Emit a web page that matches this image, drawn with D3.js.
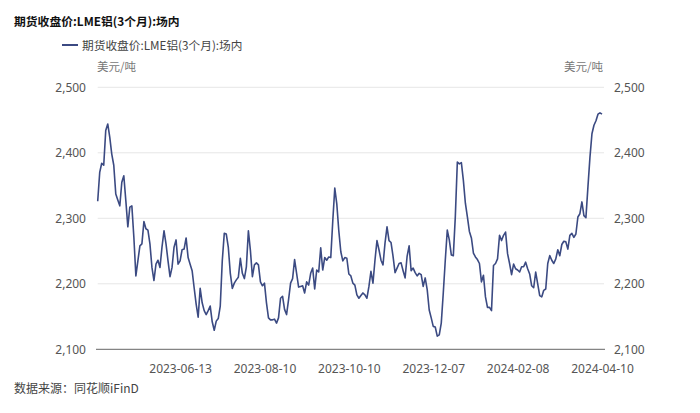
<!DOCTYPE html>
<html><head><meta charset="utf-8">
<script src="https://cdn.jsdelivr.net/npm/d3@7"></script>
<style>
html,body{margin:0;padding:0;background:#fff;}
svg{display:block;font-family:"Microsoft YaHei","Noto Sans CJK SC","Noto Sans",sans-serif;}
</style></head>
<body><svg id="c" width="700" height="413"></svg>
<script>
const title = "期货收盘价:LME铝(3个月):场内";
const seriesName = "期货收盘价:LME铝(3个月):场内";
const unit = "美元/吨";
const source = "数据来源：同花顺iFinD";
const yTicks = [2100, 2200, 2300, 2400, 2500];
const tickLabels = ["2023-06-13", "2023-08-10", "2023-10-10", "2023-12-07", "2024-02-08", "2024-04-10"];
const tickInterval = 42;
const values = [
2326,2370,2384,2381,2434,2444,2424,2398,2381,2337,
2328,2319,2355,2365,2327,2287,2317,2319,2271,2212,
2235,2258,2261,2295,2284,2282,2261,2225,2205,2230,
2236,2225,2256,2281,2261,2235,2211,2225,2256,2267,
2230,2235,2252,2253,2270,2240,2230,2220,2194,2169,
2149,2193,2171,2159,2153,2159,2166,2142,2129,2143,
2147,2166,2235,2277,
2276,2256,2216,2193,2201,2206,2210,2239,2216,2208,
2226,2281,2251,2211,2229,2232,2229,2203,2197,2201,
2171,2148,2145,2145,2146,2140,2148,2178,2181,2161,
2153,2176,2201,2208,2237,2216,2195,2196,2197,2186,
2203,2198,2216,2224,2192,2221,2218,2255,2221,2240,
2236,2241,2240,2296,2346,2322,2281,2249,2235,2240,
2239,2215,2212,
2201,2198,2183,2178,2182,2186,2183,2178,2196,2219,
2201,2236,2266,2252,2236,2229,2262,2287,2266,2263,
2242,2217,2224,2231,2232,2220,2209,2242,2258,2220,
2224,2217,2212,2216,2214,2196,2209,2191,2160,2148,
2135,2134,2120,2122,2140,2186,2236,2282,2267,2244,
2243,2303,2386,2383,2385,2358,2323,2302,2280,2270,
2247,2241,2237,2231,
2203,2213,2180,2164,2164,2159,2228,2231,2238,2274,
2266,2274,2279,2246,2231,2214,2230,2223,2221,2218,
2226,2226,2233,2223,2215,2197,2194,2218,2200,2182,
2180,2190,2192,2231,2243,2236,2231,2238,2252,2243,
2260,2265,2264,2253,2274,2277,2271,2276,2302,2307,
2325,2304,2301,2348,2393,2429,2442,2449,2459,2461,
2459
];

const svg = d3.select("#c");
const L = 97.7, R = 602, T = 87.3, B = 349.3;
const idx = d3.range(values.length);
const x = d3.scalePoint().domain(idx).range([L, R]);
const y = d3.scaleLinear().domain([2100, 2500]).range([B, T]);

// title
svg.append("text").attr("x", 14).attr("y", 26).attr("font-size", 11.8).attr("font-weight", "bold")
  .attr("fill", "#111").text(title);
// legend
svg.append("line").attr("x1", 62).attr("x2", 78).attr("y1", 45).attr("y2", 45)
  .attr("stroke", "#3b4a82").attr("stroke-width", 2);
svg.append("text").attr("x", 82).attr("y", 49.5).attr("font-size", 11.7).attr("fill", "#444").text(seriesName);
// units
svg.append("text").attr("x", 97).attr("y", 71).attr("font-size", 11.5).attr("fill", "#777").text(unit);
svg.append("text").attr("x", 603).attr("y", 71).attr("font-size", 11.5).attr("fill", "#777").attr("text-anchor", "end").text(unit);

// grid
svg.append("g").selectAll("line").data(yTicks.filter(d => d !== 2100)).join("line")
  .attr("x1", L).attr("x2", 604).attr("y1", d => y(d)).attr("y2", d => y(d))
  .attr("stroke", "#e6e6e6").attr("stroke-width", 1);

// y axes
const fmt = d3.format(",");
const yl = svg.append("g").attr("transform", `translate(${86},0)`)
  .call(d3.axisLeft(y).tickValues(yTicks).tickFormat(fmt).tickSize(0).tickPadding(0));
const yr = svg.append("g").attr("transform", `translate(${614},0)`)
  .call(d3.axisRight(y).tickValues(yTicks).tickFormat(fmt).tickSize(0).tickPadding(0));
[yl, yr].forEach(g => {
  g.select(".domain").remove();
  g.selectAll("text").attr("font-size", 12).attr("fill", "#555")
    .attr("font-family", "'Microsoft YaHei','Noto Sans',sans-serif");
});

// x axis
const n = values.length;
const tickIdx = tickLabels.map((d, i) => n - 1 - (tickLabels.length - 1 - i) * tickInterval);
const labelOf = new Map(tickIdx.map((k, i) => [k, tickLabels[i]]));
const xa = svg.append("g").attr("transform", `translate(0,${B})`)
  .call(d3.axisBottom(x).tickValues(tickIdx).tickFormat(k => labelOf.get(k)).tickSize(0).tickPadding(15));
xa.select(".domain").attr("stroke", "#666").attr("d", `M${96},0H${605}`);
xa.selectAll("text").attr("font-size", 12).attr("fill", "#555")
  .attr("font-family", "'Microsoft YaHei','Noto Sans',sans-serif");

// line
svg.append("path").datum(values)
  .attr("d", d3.line().x((d, i) => x(i)).y(d => y(d)))
  .attr("fill", "none").attr("stroke", "#3b4a82").attr("stroke-width", 1.6)
  .attr("stroke-linejoin", "round");

// source
svg.append("text").attr("x", 14).attr("y", 393).attr("font-size", 12).attr("fill", "#444").text(source);
</script></body></html>
